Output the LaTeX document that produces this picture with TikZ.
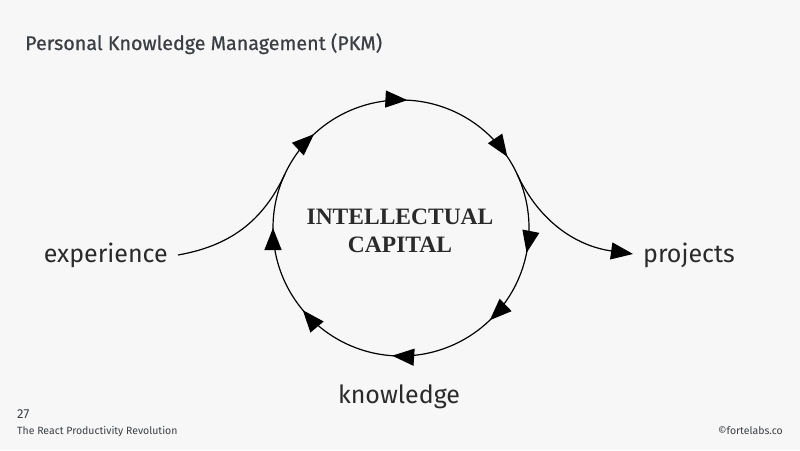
\documentclass[tikz,border=0pt]{standalone}
\usepackage{fontspec}
\setmainfont{Fira Sans}
\newfontfamily\titlefont[FakeBold=0.7]{Fira Sans}
\newfontfamily\capfont{Liberation Serif}
\usetikzlibrary{arrows.meta,decorations.markings}
\definecolor{bgc}{HTML}{F7F7F7}
\definecolor{txt}{HTML}{2A2A2A}
\definecolor{ttl}{HTML}{3B3F44}
\tikzset{
  bighead/.tip={Triangle[length=22pt,width=17pt]},
  flowline/.style={line width=1.2pt, black},
  lbl/.style={font=\fontsize{25}{28}\selectfont, text=txt, inner sep=0pt},
  small/.style={font=\fontsize{10.5}{12}\selectfont, text=ttl, inner sep=0pt, anchor=base west},
  cyclemarks/.style={postaction={decorate},
    decoration={markings,
      mark=at position 0.008 with {\arrow{bighead}},
      mark=at position 0.156 with {\arrow{bighead}},
      mark=at position 0.281 with {\arrow{bighead}},
      mark=at position 0.378 with {\arrow{bighead}},
      mark=at position 0.511 with {\arrow{bighead}},
      mark=at position 0.639 with {\arrow{bighead}},
      mark=at position 0.750 with {\arrow{bighead}},
      mark=at position 0.881 with {\arrow{bighead}}}}
}
\begin{document}
\begin{tikzpicture}[x=1pt,y=1pt]
\fill[bgc] (0,0) rectangle (800,-450);
\useasboundingbox (0,0) rectangle (800,-450);

\node[anchor=base west, inner sep=0pt, text=ttl, font=\titlefont\fontsize{19.7}{22}\selectfont] (title) at (25,-50) {Personal Knowledge Management (PKM)};

\node[circle, minimum size=256pt, inner sep=0pt, outer sep=0pt, align=center, text=txt,
      font=\capfont\bfseries\fontsize{23.5}{28}\selectfont] (cap) at (401,-228) {};
\node[align=center, inner sep=0pt, text=txt, font=\capfont\bfseries\fontsize{23.5}{28}\selectfont]
      (captxt) at (400,-231) {INTELLECTUAL\\CAPITAL};

\node[lbl, anchor=base east] (exp) at (168,-262) {experience};
\node[lbl, anchor=base west] (proj) at (643,-262) {projects};
\node[lbl, anchor=base] (know) at (399,-403) {knowledge};

\draw[flowline, cyclemarks] (cap.90) arc[start angle=90, end angle=-270, radius=128pt];

\draw[flowline] ([xshift=10pt,yshift=7pt]exp.base east) to[out=10, in=245] (cap.155);
\draw[flowline, -bighead] (cap.25) to[out=-65, in=172] ([xshift=-10pt,yshift=8pt]proj.base west);

\node[small, font=\fontsize{13}{14}\selectfont] (num) at (17,-418) {27};
\node[small] (book) at (17,-434) {The React Productivity Revolution};
\node[small, anchor=base east] (copy) at (783,-434) {©fortelabs.co};
\end{tikzpicture}
\end{document}
